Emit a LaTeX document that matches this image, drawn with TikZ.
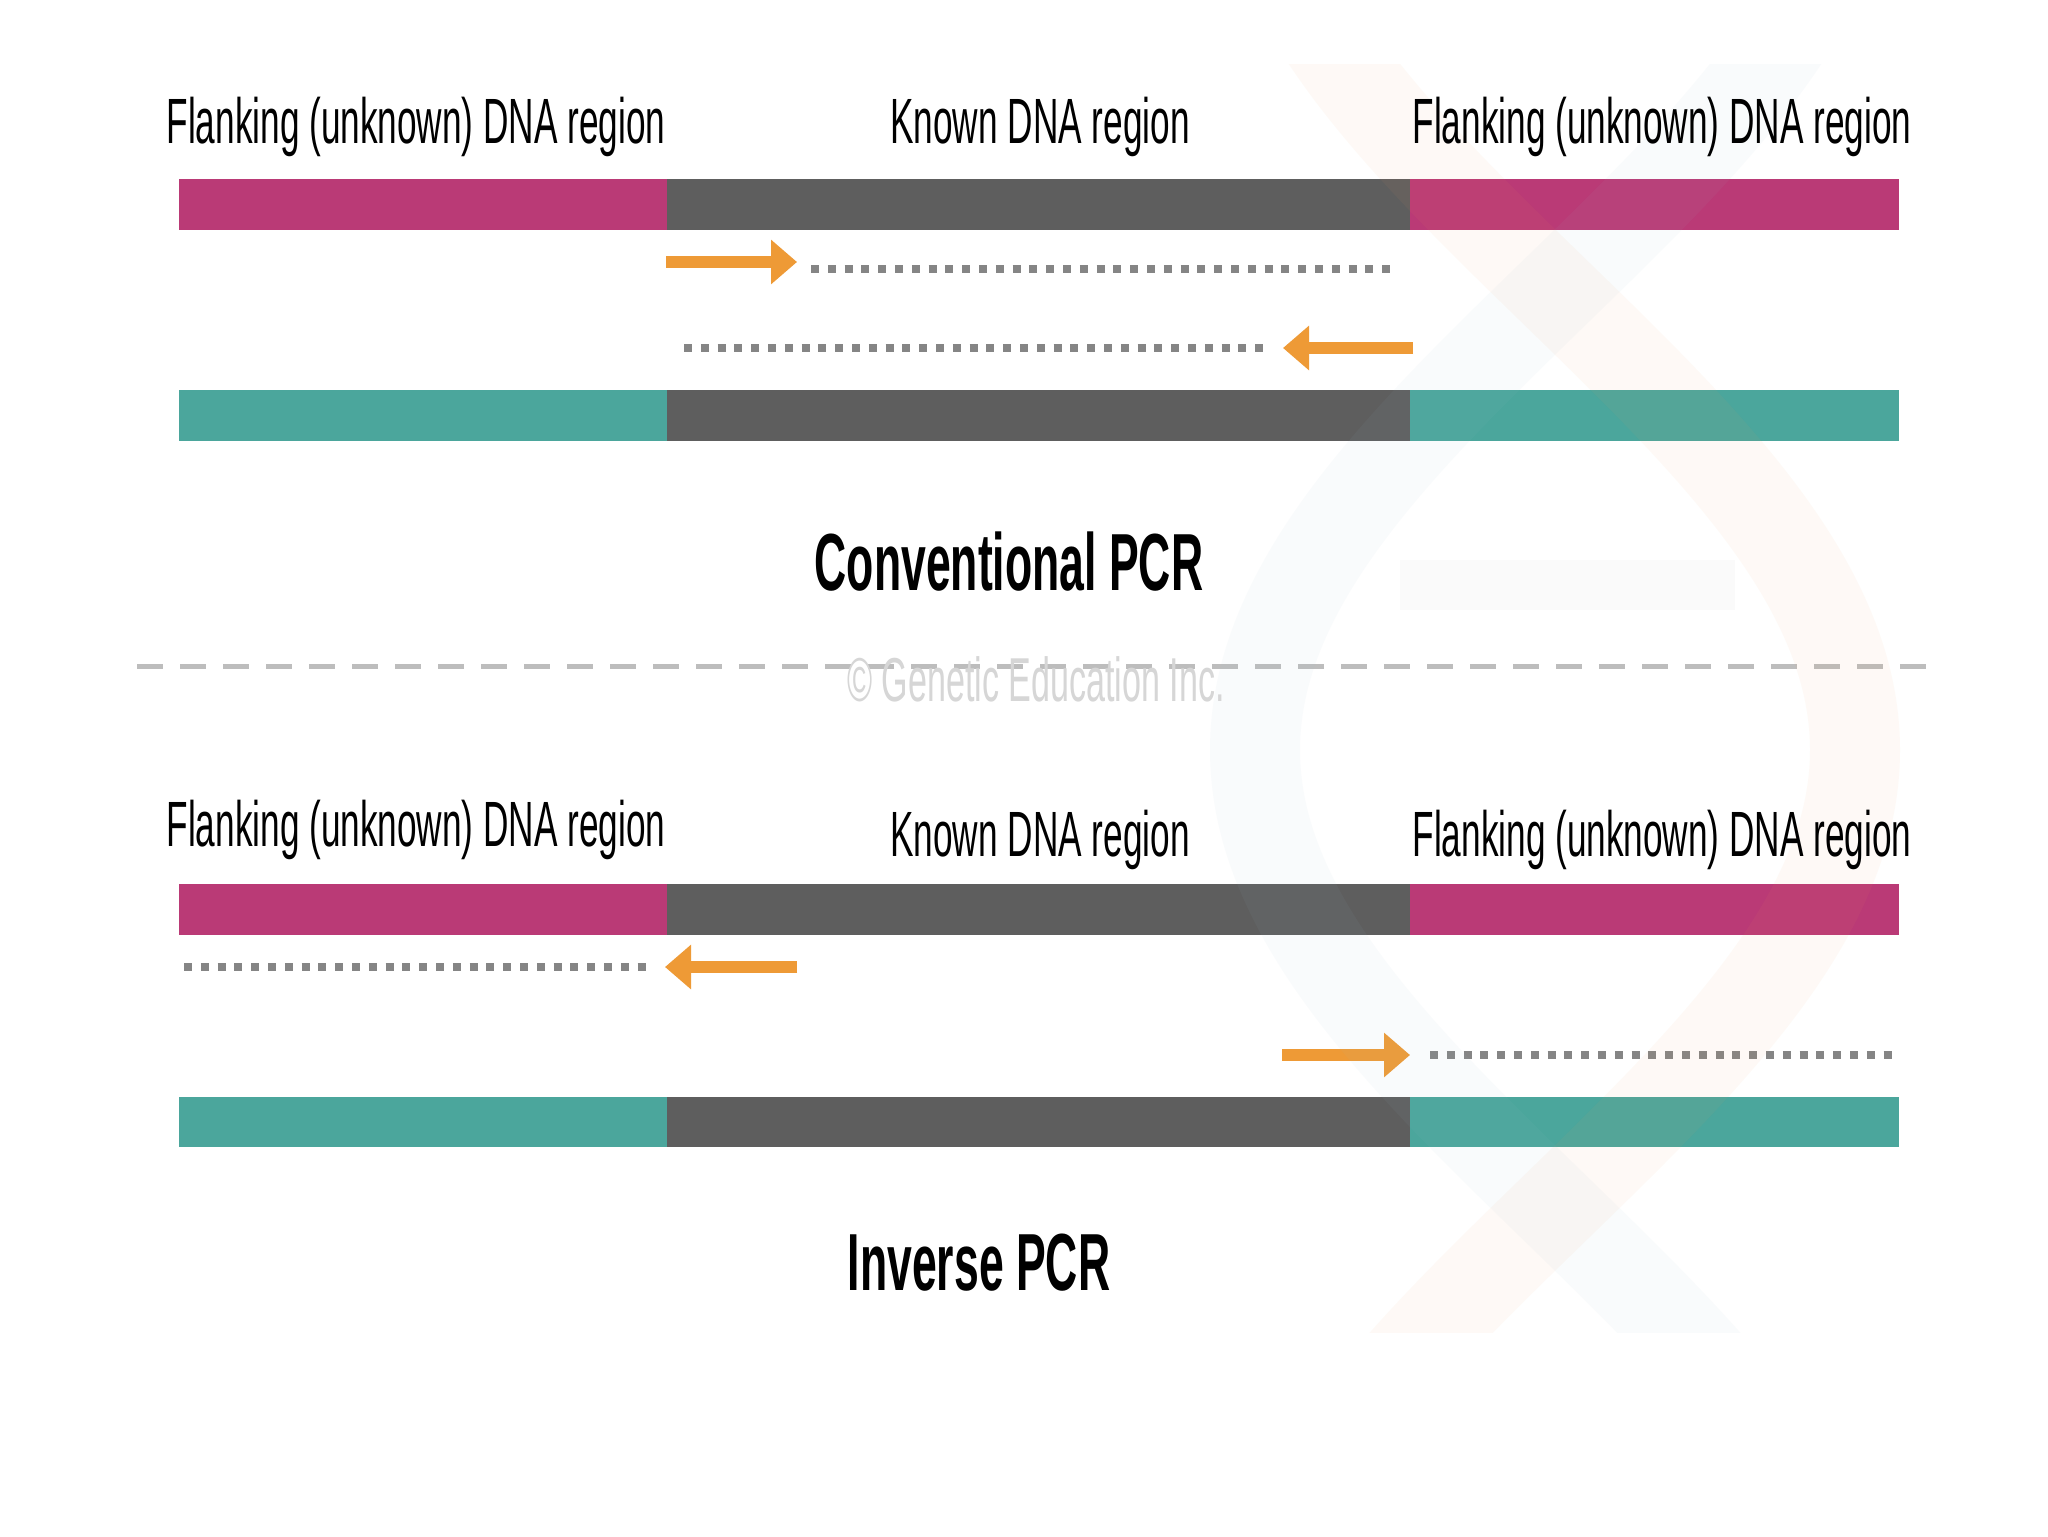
\documentclass[tikz,border=0pt]{standalone}
\usepackage{fontspec}
\setmainfont{Liberation Sans}[FakeStretch=0.55]
\usetikzlibrary{arrows.meta}
\definecolor{dnapink}{HTML}{BA3A76}
\definecolor{dnagrey}{HTML}{5E5E5E}
\definecolor{dnateal}{HTML}{4BA69C}
\definecolor{primer}{HTML}{EE9A36}
\definecolor{dotgrey}{HTML}{858585}
\definecolor{sepgrey}{HTML}{BDBDBD}
\definecolor{wmgrey}{HTML}{D6D6D6}
\definecolor{helixA}{HTML}{F2A060}
\definecolor{helixB}{HTML}{9DBFD0}
\tikzset{
  lab/.style={anchor=base, inner sep=0pt, font=\fontsize{32}{38}\selectfont},
  ttl/.style={anchor=base, inner sep=0pt, font=\fontsize{40.5}{48}\selectfont\bfseries},
  wm/.style={anchor=base, inner sep=0pt, text=wmgrey, font=\fontsize{31}{36}\selectfont},
  primerarrow/.style={draw=primer, line width=6pt, -{Triangle[length=13pt,width=21.5pt]}},
  template/.style={draw=dotgrey, line width=4pt, dash pattern=on 4pt off 4.4pt},
  separator/.style={draw=sepgrey, line width=2.5pt, dash pattern=on 13pt off 8.5pt},
  helixstrand/.style={line width=45pt, opacity=0.055}
}
\begin{document}
\begin{tikzpicture}[x=0.5pt,y=-0.5pt]
\useasboundingbox (0,0) rectangle (2048,1536);
\fill[white] (0,0) rectangle (2048,1536);

% ---------- Conventional PCR ----------
\fill[dnapink] (179,179) rectangle (667,230);
\fill[dnagrey] (667,179) rectangle (1410,230);
\fill[dnapink] (1410,179) rectangle (1899,230);
\fill[dnateal] (179,390) rectangle (667,441);
\fill[dnagrey] (667,390) rectangle (1410,441);
\fill[dnateal] (1410,390) rectangle (1899,441);

\coordinate (a1s) at (666,262);  \coordinate (a1e) at (797,262);
\coordinate (d1s) at (811,269);  \coordinate (d1e) at (1398,269);
\coordinate (a2s) at (1413,348); \coordinate (a2e) at (1283,348);
\coordinate (d2s) at (684,348);  \coordinate (d2e) at (1270,348);
\draw[primerarrow] (a1s) -- (a1e);
\draw[template] (d1s) -- (d1e);
\draw[primerarrow] (a2s) -- (a2e);
\draw[template] (d2s) -- (d2e);

% ---------- Inverse PCR ----------
\fill[dnapink] (179,884) rectangle (667,935);
\fill[dnagrey] (667,884) rectangle (1410,935);
\fill[dnapink] (1410,884) rectangle (1899,935);
\fill[dnateal] (179,1097) rectangle (667,1147);
\fill[dnagrey] (667,1097) rectangle (1410,1147);
\fill[dnateal] (1410,1097) rectangle (1899,1147);

\coordinate (a3s) at (797,967);  \coordinate (a3e) at (665,967);
\coordinate (d3s) at (184,967);  \coordinate (d3e) at (650,967);
\coordinate (a4s) at (1282,1055); \coordinate (a4e) at (1410,1055);
\coordinate (d4s) at (1430,1055); \coordinate (d4e) at (1894,1055);
\draw[primerarrow] (a3s) -- (a3e);
\draw[template] (d3s) -- (d3e);
\draw[primerarrow] (a4s) -- (a4e);
\draw[template] (d4s) -- (d4e);

% ---------- separator ----------
\coordinate (sepL) at (137,666); \coordinate (sepR) at (1926,666);
\draw[separator] (sepL) -- (sepR);

% ---------- faint helix watermark ----------
\begin{scope}
\clip (1180,65) rectangle (1960,1332);
\draw[helixstrand, helixA] plot[domain=20:1380, samples=100, smooth] ({1555+300*sin((\x-292)*0.19651)}, \x);
\draw[helixstrand, helixB] plot[domain=20:1380, samples=100, smooth] ({1555-300*sin((\x-292)*0.19651)}, \x);
\fill[black, opacity=0.02] (1400,560) rectangle (1735,610);
\end{scope}

% ---------- texts ----------
\node[lab] (fl1) at (416,143) {Flanking (unknown) DNA region};
\node[lab] (kn1) at (1040,143) {Known DNA region};
\node[lab] (fr1) at (1662,143) {Flanking (unknown) DNA region};
\node[ttl] (conv) at (1009,590) {Conventional PCR};
\node[wm] (copy) at (1036,701) {© Genetic Education Inc.};
\node[lab] (fl2) at (416,846) {Flanking (unknown) DNA region};
\node[lab] (kn2) at (1040,856) {Known DNA region};
\node[lab] (fr2) at (1662,856) {Flanking (unknown) DNA region};
\node[ttl] (inv) at (979,1290) {Inverse PCR};
\end{tikzpicture}
\end{document}
